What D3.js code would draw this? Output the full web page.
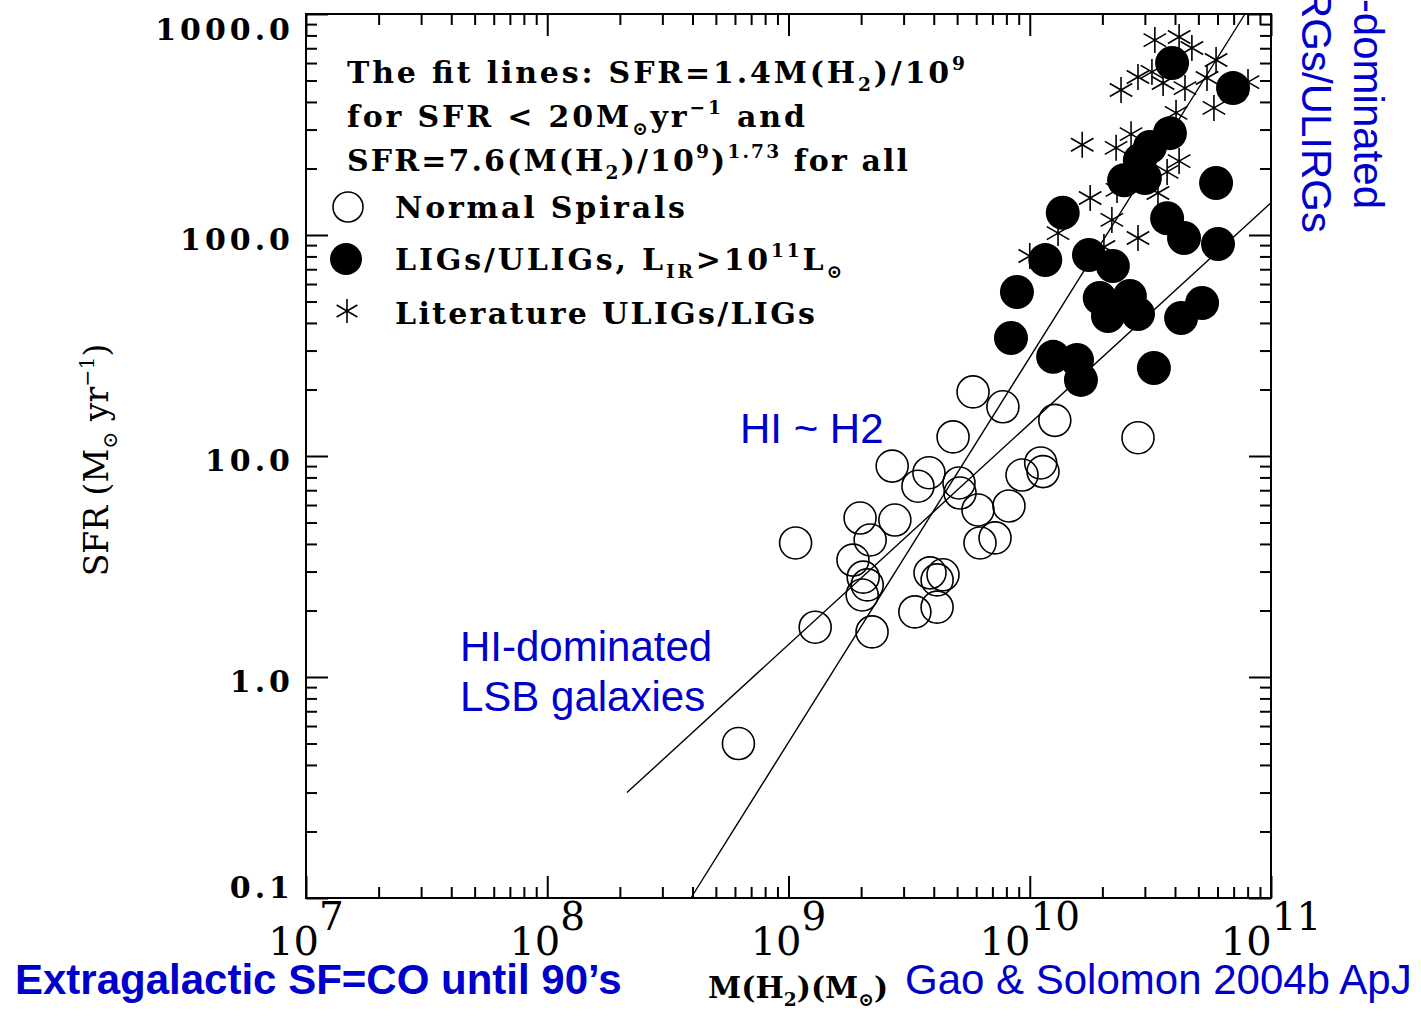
<!DOCTYPE html>
<html>
<head>
<meta charset="utf-8">
<script src="https://cdn.jsdelivr.net/npm/d3@7"></script>
<style>
    body { margin: 0; background: #fff; }
    svg { display: block; }
    .serif { font-family: 'DejaVu Serif', serif; fill: #000; }
    .bold { font-weight: bold; }
    .blue { font-family: 'Liberation Sans', Arial, sans-serif; fill: #0000cc; font-size: 42px; }
</style>
</head>
<body>
<svg id="chart" width="1421" height="1017"></svg>
<script>
// Data, M(H2) in units of 10^9 Msun, SFR in Msun/yr
const unit = 1e9;

// Normal spirals (open circles)
const spiralMass = [5.82, 7.74, 4.81, 12.7, 28.1, 2.69, 3.82, 3.44, 5.09, 5.14, 9.29, 11.1, 11.35,
    6.10, 8.20, 1.98, 2.76, 2.18, 1.07, 6.22, 7.18, 1.85, 2.04, 2.12, 2.02, 3.86, 4.37, 4.13,
    3.34, 4.13, 1.29, 2.22, 0.62];
const spiralSFR = [19.5, 16.7, 12.2, 14.5, 12.1, 9.0, 8.4, 7.3, 7.55, 6.8, 8.2, 9.3, 8.5,
    5.7, 5.94, 5.24, 5.13, 4.17, 4.04, 4.04, 4.26, 3.38, 2.83, 2.61, 2.35, 2.96, 2.90, 2.75,
    1.97, 2.07, 1.68, 1.60, 0.50];

// LIGs/ULIGs (filled circles)
const ligMass = [38.9, 69.6, 38.1, 31.5, 28.6, 24.6, 30.0, 59.2, 13.7, 37.1, 43.6, 60.3, 11.6,
    17.6, 22.1, 8.85, 19.5, 26.0, 21.1, 28.1, 42.4, 51.8, 8.36, 12.5, 15.7, 16.3, 32.7];
const ligSFR = [600, 462, 289, 250, 218, 177, 181, 172, 126, 119, 96.9, 91, 77,
    81.2, 72.4, 55.2, 51.9, 53, 43, 43.9, 42.1, 49.2, 34.2, 28.1, 27.2, 22.1, 25];

// Literature ULIGs/LIGs (asterisks)
const litMass = [33.0, 41.6, 47.0, 59.2, 28.1, 32.1, 23.9, 35.7, 44.0, 54.3, 58.0, 40.4, 16.5,
    22.8, 26.3, 41.6, 37.1, 17.8, 23.0, 34.0, 21.9, 13.1, 28.1, 20.3, 10.0, 80.3];
const litSFR = [762, 787, 702, 619, 519, 547, 453, 487, 462, 513, 376, 357, 256,
    248, 286, 216, 193, 147, 160, 155, 117, 102, 96.9, 88.3, 80.3, 492];

// Fit lines, end points
const fitLinear = [[0.214, 0.30], [100, 140]];
const fitPower = [[0.394, 0.1], [78, 1000]];

// Axis ticks
const xMajor = [1e7, 1e8, 1e9, 1e10, 1e11];
const xExponents = ['7', '8', '9', '10', '11'];
const yMajor = [0.1, 1, 10, 100, 1000];
const yLabels = ['0.1', '1.0', '10.0', '100.0', '1000.0'];

// Layout
let c = {
    width: 1421,
    height: 1017,
    plot: { left: 306, right: 1271, top: 14, bottom: 898 },
    major: 22,
    minor: 11
};

let svg = d3.select('#chart');

let x = d3.scaleLog().domain([1e7, 1e11]).range([c.plot.left, c.plot.right]);
let y = d3.scaleLog().domain([0.1, 1000]).range([c.plot.bottom, c.plot.top]);

function minorTicks(majors) {
    let out = [];
    for (let d of majors.slice(0, -1))
        for (let k = 2; k < 10; k++) out.push(k * d);
    return out;
}

function tickAxis(axisFn, scale, values, size, transform) {
    let g = svg.append('g')
        .attr('transform', transform)
        .call(axisFn(scale).tickValues(values).tickSize(-size).tickFormat(''));
    g.select('.domain').remove();
    g.selectAll('text').remove();
    g.selectAll('line').attr('stroke', '#000').attr('stroke-width', 2);
}

// ticks on all four sides, pointing inward
for (let [vals, len] of [[xMajor, c.major], [minorTicks(xMajor), c.minor]]) {
    tickAxis(d3.axisBottom, x, vals, len, translate(0, c.plot.bottom));
    tickAxis(d3.axisTop, x, vals, len, translate(0, c.plot.top));
}
for (let [vals, len] of [[yMajor, c.major], [minorTicks(yMajor), c.minor]]) {
    tickAxis(d3.axisLeft, y, vals, len, translate(c.plot.left, 0));
    tickAxis(d3.axisRight, y, vals, len, translate(c.plot.right, 0));
}

svg.append('rect')
    .attr('x', c.plot.left).attr('y', c.plot.top)
    .attr('width', c.plot.right - c.plot.left)
    .attr('height', c.plot.bottom - c.plot.top)
    .attr('fill', 'none').attr('stroke', '#000').attr('stroke-width', 2);

// y tick labels
svg.append('g').selectAll('text')
    .data(yMajor)
    .join('text')
    .attr('class', 'serif bold')
    .attr('x', c.plot.left - 12)
    .attr('y', d => Math.max(40, Math.min(c.plot.bottom, y(d) + 15)))
    .attr('text-anchor', 'end')
    .attr('font-size', 30)
    .attr('letter-spacing', 4)
    .text((d, i) => yLabels[i]);

// x tick labels 10^n
let xl = svg.append('g').selectAll('text')
    .data(xMajor)
    .join('text')
    .attr('class', 'serif')
    .attr('x', d => x(d))
    .attr('y', 955)
    .attr('text-anchor', 'middle')
    .attr('font-size', 40);
xl.append('tspan').text('10');
xl.append('tspan').attr('dy', -25).attr('font-size', 39).text((d, i) => xExponents[i]);

// rich text helper for sub/superscripts
function rich(sel, parts, size) {
    let shift = 0;
    for (let [t, kind] of parts) {
        let target = kind === 'sub' ? size * 0.28 : kind === 'sup' ? -size * 0.42 : 0;
        let ts = sel.append('tspan').attr('dy', target - shift).text(t);
        if (kind) ts.attr('font-size', size * 0.62);
        shift = target;
    }
    return sel;
}

// axis titles
rich(svg.append('text').attr('class', 'serif')
    .attr('transform', translate(108, 460) + ' rotate(-90)')
    .attr('text-anchor', 'middle').attr('font-size', 33),
    [['SFR (M'], ['\u2299', 'sub'], [' yr'], ['\u22121', 'sup'], [')']], 33);

rich(svg.append('text').attr('class', 'serif bold')
    .attr('x', 708).attr('y', 998).attr('font-size', 30),
    [['M(H'], ['2', 'sub'], [')(M'], ['\u2299', 'sub'], [')']], 30);

// fit lines
let line = d3.line().x(d => x(d[0] * unit)).y(d => y(d[1]));
for (let f of [fitLinear, fitPower]) {
    svg.append('path')
        .attr('d', line(f))
        .attr('fill', 'none').attr('stroke', '#000').attr('stroke-width', 1.4);
}

// markers
function asterisk(r) {
    let p = d3.path();
    for (let a of [90, 30, 150]) {
        let t = a * Math.PI / 180;
        p.moveTo(-r * Math.cos(t), -r * Math.sin(t));
        p.lineTo(r * Math.cos(t), r * Math.sin(t));
    }
    return p.toString();
}

svg.append('g').selectAll('circle')
    .data(d3.zip(spiralMass, spiralSFR))
    .join('circle')
    .attr('cx', d => x(d[0] * unit)).attr('cy', d => y(d[1]))
    .attr('r', 16)
    .attr('fill', 'none').attr('stroke', '#000').attr('stroke-width', 1.6);

svg.append('g').selectAll('circle')
    .data(d3.zip(ligMass, ligSFR))
    .join('circle')
    .attr('cx', d => x(d[0] * unit)).attr('cy', d => y(d[1]))
    .attr('r', 17)
    .attr('fill', '#000');

svg.append('g').selectAll('path')
    .data(d3.zip(litMass, litSFR))
    .join('path')
    .attr('transform', d => translate(x(d[0] * unit), y(d[1])))
    .attr('d', asterisk(13))
    .attr('fill', 'none').attr('stroke', '#000').attr('stroke-width', 1.6);

// legend
let legend = svg.append('g');
let legendLines = [
    { x: 347, y: 83, len: 618, parts: [['The fit lines: SFR=1.4M(H'], ['2', 'sub'], [')/10'], ['9', 'sup']] },
    { x: 347, y: 127, len: 458, parts: [['for SFR < 20M'], ['\u2299', 'sub'], ['yr'], ['\u22121', 'sup'], [' and']] },
    { x: 347, y: 171, len: 561, parts: [['SFR=7.6(M(H'], ['2', 'sub'], [')/10'], ['9', 'sup'], [')'], ['1.73', 'sup'], [' for all']] },
    { x: 395, y: 218, len: 290, parts: [['Normal Spirals']] },
    { x: 395, y: 270, len: 447, parts: [['LIGs/ULIGs, L'], ['IR', 'sub'], ['>10'], ['11', 'sup'], ['L'], ['\u2299', 'sub']] },
    { x: 395, y: 324, len: 420, parts: [['Literature ULIGs/LIGs']] }
];
for (let l of legendLines) {
    let t = legend.append('text').attr('class', 'serif bold')
        .attr('x', l.x).attr('y', l.y)
        .attr('font-size', 30)
        .attr('textLength', l.len).attr('lengthAdjust', 'spacing');
    rich(t, l.parts, 30);
}
legend.append('circle').attr('cx', 348).attr('cy', 207).attr('r', 15)
    .attr('fill', 'none').attr('stroke', '#000').attr('stroke-width', 1.6);
legend.append('circle').attr('cx', 346).attr('cy', 259).attr('r', 16).attr('fill', '#000');
legend.append('path').attr('transform', translate(347, 311)).attr('d', asterisk(12))
    .attr('fill', 'none').attr('stroke', '#000').attr('stroke-width', 1.6);

// blue annotations
svg.append('text').attr('class', 'blue').attr('x', 740).attr('y', 443).text('HI ~ H2');
svg.append('text').attr('class', 'blue').attr('x', 460).attr('y', 661).text('HI-dominated');
svg.append('text').attr('class', 'blue').attr('x', 460).attr('y', 711).text('LSB galaxies');
svg.append('text').attr('class', 'blue').attr('x', 15).attr('y', 994)
    .attr('font-weight', 'bold').text('Extragalactic SF=CO until 90\u2019s');
svg.append('text').attr('class', 'blue').attr('x', 905).attr('y', 994).text('Gao & Solomon 2004b ApJ');
svg.append('text').attr('class', 'blue').attr('text-anchor', 'end')
    .attr('transform', translate(1354, 209) + ' rotate(90)').text('H2-dominated');
svg.append('text').attr('class', 'blue').attr('text-anchor', 'end')
    .attr('transform', translate(1302, 233) + ' rotate(90)').text('LIRGs/ULIRGs');

function translate(x, y) {
    return 'translate(' + x + ',' + y + ')';
}
</script>
</body>
</html>
